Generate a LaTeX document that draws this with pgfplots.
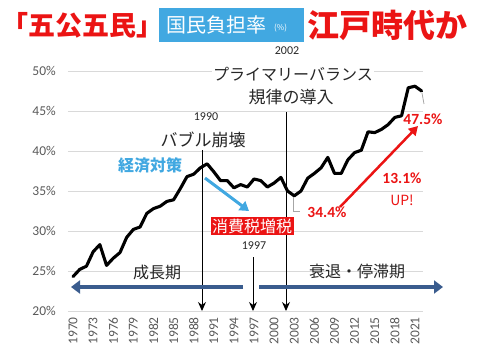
\documentclass[border=0pt]{standalone}
\usepackage{pgfplots}
\pgfplotsset{compat=1.18}
\usepackage{pgfplotstable}
\usepackage{fontspec}
\setmainfont{Carlito}
\newfontfamily\jp{Noto Sans CJK JP}
\usetikzlibrary{arrows.meta}
\definecolor{tred}{RGB}{235,20,20}
\definecolor{tblue}{RGB}{65,168,225}
\definecolor{gridc}{RGB}{217,217,217}
\definecolor{ticc}{RGB}{89,89,89}
\definecolor{navy}{RGB}{58,92,142}
\definecolor{leader}{RGB}{166,166,166}
\pgfplotstableread{
year rate
1970 24.3
1971 25.2
1972 25.6
1973 27.4
1974 28.3
1975 25.7
1976 26.6
1977 27.3
1978 29.2
1979 30.2
1980 30.5
1981 32.2
1982 32.8
1983 33.1
1984 33.7
1985 33.9
1986 35.3
1987 36.8
1988 37.1
1989 37.9
1990 38.4
1991 37.4
1992 36.3
1993 36.3
1994 35.4
1995 35.8
1996 35.5
1997 36.5
1998 36.3
1999 35.5
2000 36.0
2001 36.7
2002 35.0
2003 34.4
2004 35.0
2005 36.6
2006 37.2
2007 37.9
2008 39.2
2009 37.2
2010 37.2
2011 38.9
2012 39.8
2013 40.1
2014 42.4
2015 42.3
2016 42.7
2017 43.3
2018 44.2
2019 44.4
2020 47.9
2021 48.1
2022 47.5
}\burden
\begin{document}
\begin{tikzpicture}
\useasboundingbox (0,0) rectangle (480pt,360pt);
\begin{axis}[at={(68pt,49pt)}, anchor=south west, scale only axis,
  width=355pt, height=240pt,
  xmin=1969.25, xmax=2022.2, ymin=20, ymax=50,
  xtick={1970,1973,...,2021}, ytick={20,25,...,50},
  axis line style={draw=none}, major tick length=0pt,
  ymajorgrids, grid style={gridc, line width=0.8pt},
  /pgf/number format/assume math mode=true,
  /pgf/number format/1000 sep={},
  xticklabel style={rotate=90, anchor=east, inner sep=0pt,
    font=\fontsize{13.5}{14}\selectfont, text=ticc},
  yticklabel style={anchor=east, inner sep=0pt,
    font=\fontsize{13.5}{14}\selectfont, text=ticc},
  xticklabel shift=6pt, yticklabel shift=12pt,
  yticklabel={\pgfmathprintnumber{\tick}\%},
  clip=false]
\addplot[black, line width=3.1pt, line join=round, line cap=round] table[x=year, y=rate] {\burden};
\end{axis}
\begin{scope}[x=1pt, y=-1pt, yshift=360pt]
% title
\fill[tblue] (159,8) rectangle (304,42);
\node[anchor=west, inner sep=0pt, text=white, font=\jp\fontsize{20}{20}\selectfont] at (166,25) {国民負担率};
\node[anchor=west, inner sep=0pt, text=white, font=\jp\fontsize{8}{8}\selectfont] at (274,28) {(\%)};
\node[anchor=west, inner sep=0pt, text=tred, font=\jp\bfseries\fontsize{27}{27}\selectfont] at (1,25) {「五公五民」};
\node[anchor=west, inner sep=0pt, text=tred, font=\jp\bfseries\fontsize{32}{32}\selectfont] at (307,25) {江戸時代か};
% leaders
\draw[leader, line width=0.8pt] (293,197) -- (293,211) -- (300,211);
\draw[leader, line width=0.8pt] (422,93) -- (424,104);
% vertical arrows
\draw[black, line width=0.9pt, -{Stealth[length=9pt,width=8pt]}] (202,150) -- (202,311);
\draw[black, line width=0.9pt, -{Stealth[length=9pt,width=8pt]}] (253,257) -- (253,311);
\draw[black, line width=0.9pt, -{Stealth[length=9pt,width=8pt]}] (286,112) -- (286,311);
% period arrows
\draw[navy, line width=4.5pt, -{Triangle[length=9pt,width=13pt]}] (243,287) -- (71,287);
\draw[navy, line width=4.5pt, -{Triangle[length=9pt,width=13pt]}] (259,287) -- (443,287);
\node[font=\jp\fontsize{16}{16}\selectfont, text=black!85] at (157,272) {成長期};
\node[font=\jp\fontsize{16}{16}\selectfont, text=black!85] at (357,272) {衰退・停滞期};
% blue and red arrows
\draw[tblue, line width=3pt, -{Triangle[length=9pt,width=11pt]}] (205,178) -- (249,211);
\draw[tred, line width=2.5pt, -{Triangle[length=9pt,width=10pt]}] (340,207) -- (418,126);
% texts
\node[font=\fontsize{12}{12}\selectfont, text=black!85] at (287,51) {2002};
\node[fill=white, inner sep=1pt, font=\jp\fontsize{16}{16}\selectfont, text=black!85] at (293,74) {プライマリーバランス};
\node[font=\jp\fontsize{17}{17}\selectfont, text=black!85] at (291,97) {規律の導入};
\node[font=\fontsize{12}{12}\selectfont, text=black!85] at (206,117) {1990};
\node[fill=white, inner sep=1pt, font=\jp\fontsize{17}{17}\selectfont, text=black!85] at (203,140) {バブル崩壊};
\node[font=\jp\bfseries\fontsize{16}{16}\selectfont, text=tblue] at (150,165) {経済対策};
\node[fill=tred, text=white, inner sep=1.5pt, font=\jp\fontsize{16}{16}\selectfont] at (252,226) {消費税増税};
\node[font=\fontsize{12}{12}\selectfont, text=black!85] at (254,246) {1997};
\node[text=tred, font=\bfseries\fontsize{15.5}{15}\selectfont] at (327,212) {34.4\%};
\node[text=tred, font=\bfseries\fontsize{15.5}{15}\selectfont] at (402,178) {13.1\%};
\node[text=tred, font=\jp\fontsize{14}{14}\selectfont] at (402,200) {UP!};
\node[text=tred, font=\bfseries\fontsize{15.5}{15}\selectfont] at (423,119) {47.5\%};
\end{scope}
\end{tikzpicture}
\end{document}
